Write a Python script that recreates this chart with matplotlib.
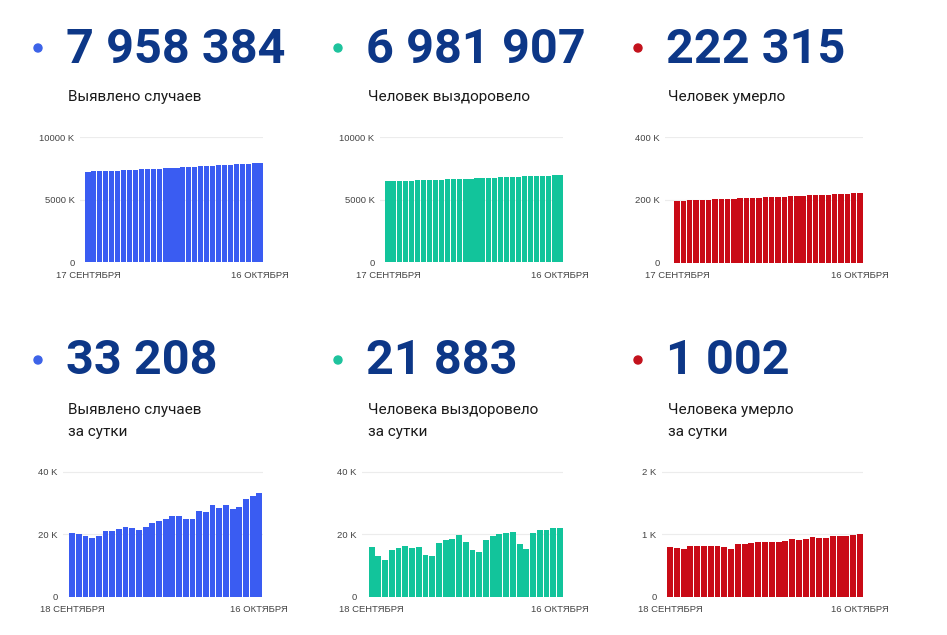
import matplotlib
matplotlib.use("Agg")
import matplotlib.pyplot as plt
from matplotlib.patches import Ellipse

plt.rcParams['font.family'] = ['Roboto', 'DejaVu Sans']

# --- data ---
totals = ["7 958 384", "6 981 907", "222 315"]
daily_totals = ["33 208", "21 883", "1 002"]
top_titles = ["Выявлено случаев", "Человек выздоровело", "Человек умерло"]
bottom_titles = ["Выявлено случаев\nза сутки", "Человека выздоровело\nза сутки", "Человека умерло\nза сутки"]

top_dates = ["17 СЕНТЯБРЯ", "16 ОКТЯБРЯ"]
bottom_dates = ["18 СЕНТЯБРЯ", "16 ОКТЯБРЯ"]

# cumulative, thousands (17 Sep - 16 Oct)
cases_cum = [7239, 7259, 7279, 7299, 7318, 7337, 7359, 7380, 7401, 7424,
             7446, 7467, 7490, 7513, 7538, 7563, 7588, 7614, 7639, 7664,
             7691, 7718, 7747, 7776, 7805, 7833, 7862, 7893, 7925, 7958]
recovered_cum = [6477, 6493, 6506, 6518, 6533, 6549, 6565, 6580, 6597, 6610,
                 6623, 6640, 6658, 6677, 6696, 6714, 6729, 6743, 6762, 6781,
                 6801, 6822, 6842, 6859, 6875, 6895, 6917, 6938, 6960, 6982]
deaths_cum = [196.9, 197.7, 198.5, 199.2, 200.0, 200.8, 201.6, 202.5, 203.3, 204.1,
              204.8, 205.7, 206.5, 207.4, 208.3, 209.1, 210.0, 210.9, 211.8, 212.7,
              213.6, 214.5, 215.5, 216.4, 217.3, 218.3, 219.3, 220.3, 221.3, 222.3]

# daily (18 Sep - 16 Oct)
cases_day = [20300, 20100, 19600, 18900, 19500, 21100, 21100, 21800, 22400, 22100,
             21400, 22300, 23600, 24300, 25000, 25700, 25700, 24900, 24900, 27400,
             27000, 29200, 28400, 29300, 27900, 28600, 31100, 32200, 33208]
recovered_day = [15970, 13020, 11750, 15130, 15660, 16300, 15560, 16080, 13230, 13020,
                 17150, 18100, 18520, 19800, 17570, 15020, 14290, 18320, 19590, 20110,
                 20320, 20740, 17050, 15240, 20420, 21490, 21380, 22000, 21883]
deaths_day = [789, 778, 762, 805, 810, 810, 820, 810, 789, 767,
              846, 846, 857, 878, 878, 878, 873, 889, 921, 916,
              926, 957, 947, 937, 968, 974, 974, 989, 1002]

W, H = 947, 635
colors = ["#3a5cf2", "#12c49b", "#c90a16"]
dot_colors = ["#3d63e8", "#1ec39d", "#c3121c"]
navy = "#0d3787"
tick_font = ["Liberation Sans", "DejaVu Sans"]

fig = plt.figure(figsize=(W / 100, H / 100), dpi=100)


def fx(x):
    return x / W


def fy(y):
    return 1 - y / H


def chart(values, grid_left, bar_left, bar_right, y0, ytop, ymax, ticks, labels, dates, color):
    n = len(values)
    pitch = (bar_right - bar_left) / n
    ax = fig.add_axes([fx(grid_left), fy(y0), fx(bar_right - grid_left), (y0 - ytop) / H])
    ax.bar(range(n), values, width=0.87, color=color, zorder=2)
    ax.set_xlim(-0.5 - (bar_left - grid_left) / pitch, n - 0.5)
    ax.set_ylim(0, ymax * 1.004)
    ax.set_yticks(ticks)
    ax.set_yticklabels(labels, family=tick_font)
    ax.set_xticks([0, n - 1])
    ax.set_xticklabels(dates, family=tick_font)
    for s in ax.spines.values():
        s.set_visible(False)
    ax.tick_params(length=0, labelsize=6.8, colors="#444444")
    ax.tick_params(axis="y", pad=4)
    ax.tick_params(axis="x", pad=6)
    for t in ticks[1:]:
        ax.axhline(t, color="#ececec", lw=0.8, zorder=1)
    return ax


def dot(x, y, c):
    r = 4.0
    fig.patches.append(Ellipse((fx(x), fy(y)), 2 * r / W, 2 * r / H, color=c,
                               transform=fig.transFigure, figure=fig))


cols = [68, 368, 668]
dots = [38, 338, 638]

# top row
chart(cases_cum, 80, 85, 263, 262.3, 136.7, 10000, [0, 5000, 10000],
      ["0", "5000 K", "10000 K"], top_dates, colors[0])
chart(recovered_cum, 380, 385, 563, 262.3, 136.7, 10000, [0, 5000, 10000],
      ["0", "5000 K", "10000 K"], top_dates, colors[1])
chart(deaths_cum, 665, 674, 863, 262.7, 136.7, 400, [0, 200, 400],
      ["0", "200 K", "400 K"], top_dates, colors[2])

# bottom row
chart(cases_day, 63, 68.7, 262.7, 597, 471, 40000, [0, 20000, 40000],
      ["0", "20 K", "40 K"], bottom_dates, colors[0])
chart(recovered_day, 362, 368.3, 563.3, 597, 471, 40000, [0, 20000, 40000],
      ["0", "20 K", "40 K"], bottom_dates, colors[1])
chart(deaths_day, 662, 666.7, 863.3, 597, 471, 2000, [0, 1000, 2000],
      ["0", "1 K", "2 K"], bottom_dates, colors[2])

for i in range(3):
    fig.text(fx(cols[i] - 2), fy(63), totals[i], fontsize=35, fontweight="bold",
             color=navy, va="baseline", ha="left")
    fig.text(fx(cols[i]), fy(101), top_titles[i], fontsize=11, color="#1a1a1a",
             va="baseline", ha="left")
    dot(dots[i], 48, dot_colors[i])

    fig.text(fx(cols[i] - 2), fy(374), daily_totals[i], fontsize=35, fontweight="bold",
             color=navy, va="baseline", ha="left")
    line1, line2 = bottom_titles[i].split("\n")
    fig.text(fx(cols[i]), fy(414), line1, fontsize=11, color="#1a1a1a",
             va="baseline", ha="left")
    fig.text(fx(cols[i]), fy(436), line2, fontsize=11, color="#1a1a1a",
             va="baseline", ha="left")
    dot(dots[i], 360, dot_colors[i])

fig.savefig("out.png", dpi=100, facecolor="white")
